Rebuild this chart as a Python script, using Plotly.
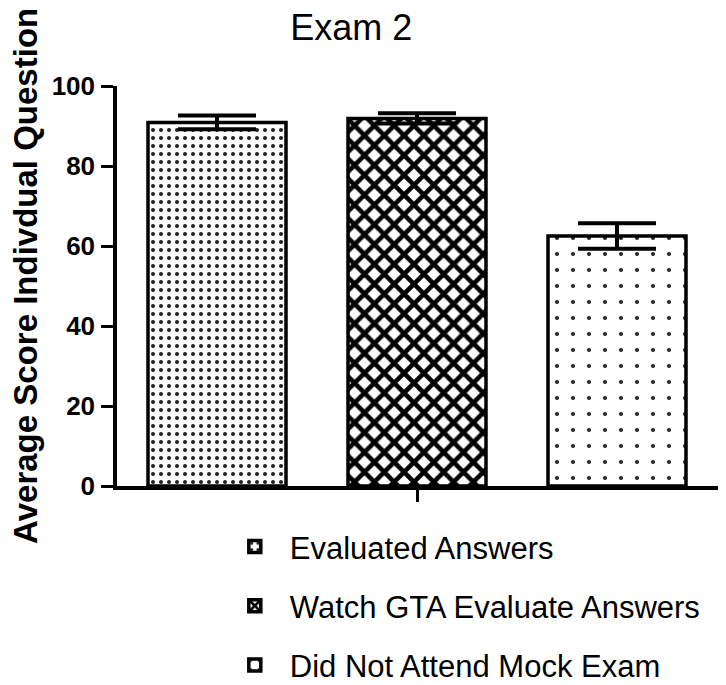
import plotly.graph_objects as go

# data
groups = ["Exam 2"]
series_names = ["Evaluated Answers", "Watch GTA Evaluate Answers", "Did Not Attend Mock Exam"]
means = [90.9, 91.9, 62.5]
errors = [1.7, 1.3, 3.2]

# hatch styles for each series (black & white print look)
patterns = [
    dict(shape=".", size=8, solidity=0.2, fgcolor="#222222", bgcolor="white", fgopacity=1),
    dict(shape="x", size=14, solidity=0.55, fgcolor="black", bgcolor="white", fgopacity=1),
    dict(shape=".", size=16, solidity=0.05, fgcolor="#222222", bgcolor="white", fgopacity=1),
]

FONT = "Arial, Liberation Sans, sans-serif"

fig = go.Figure()
for i, name in enumerate(series_names):
    fig.add_trace(
        go.Bar(
            x=groups,
            y=[means[i]],
            name=name,
            legendgroup=name,
            marker=dict(
                color="white",
                pattern=patterns[i],
                line=dict(color="black", width=3.5),
            ),
            error_y=dict(
                type="data",
                array=[errors[i]],
                color="black",
                thickness=4,
                width=39,
            ),
        )
    )

# page body adds an 8px margin, so the figure is drawn 8px smaller
fig.update_layout(
    width=718,
    height=677,
    template="simple_white",
    barmode="group",
    bargap=0.0,
    bargroupgap=0.31,
    margin=dict(l=109, r=3, t=78, b=199, autoexpand=False),
    font=dict(family=FONT, color="black"),
    title=dict(
        text="Exam 2",
        x=0.478,
        xanchor="center",
        xref="container",
        y=0.972,
        yanchor="middle",
        font=dict(size=36, family=FONT, color="black"),
    ),
    legend=dict(
        orientation="v",
        xref="container",
        yref="container",
        x=0.295,
        xanchor="left",
        y=0.244,
        yanchor="top",
        itemwidth=60,
        tracegroupgap=16,
        font=dict(size=31, family=FONT, color="black"),
        bgcolor="rgba(0,0,0,0)",
    ),
    showlegend=True,
)

# y-axis title as a rotated annotation (axis title misplaces without autoexpand)
fig.add_annotation(
    text="<b>Average Score Indivdual Question</b>",
    xref="paper",
    yref="paper",
    x=-0.152,
    y=0.525,
    xanchor="center",
    yanchor="middle",
    textangle=-90,
    showarrow=False,
    font=dict(size=33, family=FONT, color="black"),
)

fig.update_xaxes(
    range=[-0.5, 0.51],
    showline=True,
    linewidth=3.5,
    linecolor="black",
    ticks="outside",
    ticklen=12,
    tickwidth=3,
    tickcolor="black",
    showticklabels=False,
    showgrid=False,
)
fig.update_yaxes(
    range=[0, 100],
    tickvals=[0, 20, 40, 60, 80, 100],
    showline=True,
    linewidth=3.5,
    linecolor="black",
    ticks="outside",
    ticklen=12,
    tickwidth=3,
    tickcolor="black",
    ticklabelstandoff=1,
    tickfont=dict(size=26, family=FONT, color="black", weight="bold"),
    showgrid=False,
    zeroline=False,
)

fig.write_html("out.html")
